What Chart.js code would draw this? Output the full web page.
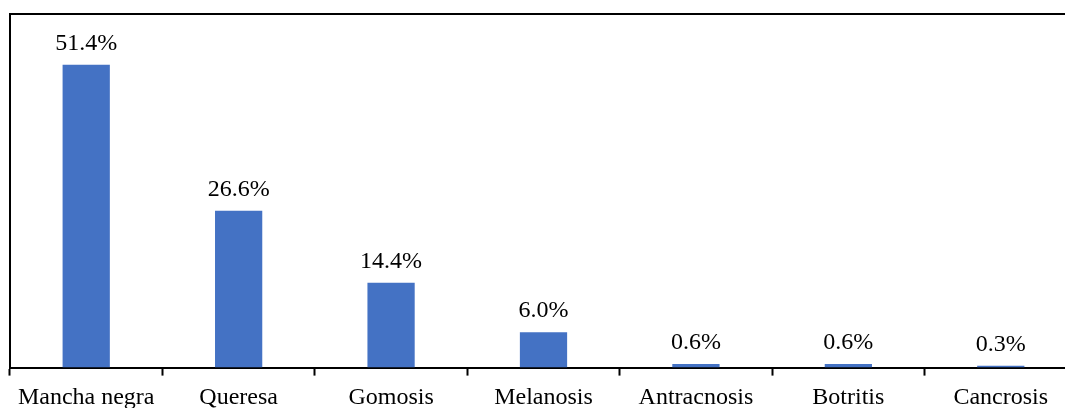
<!DOCTYPE html>
<html>
<head>
<meta charset="utf-8">
<script src="https://cdn.jsdelivr.net/npm/chart.js@4/dist/chart.umd.min.js"></script>
<style>
  html, body { margin: 0; padding: 0; background: #fff; overflow: hidden; }
  .wrap { position: relative; width: 1080px; height: 420px; }
</style>
</head>
<body>
<div class="wrap"><canvas id="diseaseChart"></canvas></div>
<script>
  // Chart data
  const categories = ["Mancha negra", "Queresa", "Gomosis", "Melanosis", "Antracnosis", "Botritis", "Cancrosis"];
  const percentages = [51.4, 26.6, 14.4, 6.0, 0.6, 0.6, 0.3];
  const valueLabels = ["51.4%", "26.6%", "14.4%", "6.0%", "0.6%", "0.6%", "0.3%"];

  const serif = "'Liberation Serif', 'Times New Roman', serif";

  // Frame lines (top and left) around the plot area
  const framePlugin = {
    id: "frame",
    afterDraw(chart) {
      const { ctx, chartArea } = chart;
      ctx.save();
      ctx.strokeStyle = "#000";
      ctx.lineWidth = 2;
      ctx.beginPath();
      ctx.moveTo(chartArea.left, chartArea.bottom);
      ctx.lineTo(chartArea.left, chartArea.top);
      ctx.lineTo(chartArea.right, chartArea.top);
      ctx.stroke();
      ctx.restore();
    }
  };

  // Percentage labels above each bar
  const valueLabelPlugin = {
    id: "valueLabels",
    afterDatasetsDraw(chart) {
      const { ctx } = chart;
      const meta = chart.getDatasetMeta(0);
      ctx.save();
      ctx.fillStyle = "#000";
      ctx.font = "24px " + serif;
      ctx.textAlign = "center";
      ctx.textBaseline = "alphabetic";
      meta.data.forEach((bar, i) => {
        ctx.fillText(valueLabels[i], bar.x, bar.y - 15);
      });
      ctx.restore();
    }
  };

  new Chart(document.getElementById("diseaseChart"), {
    type: "bar",
    data: {
      labels: categories,
      datasets: [
        {
          data: percentages,
          backgroundColor: "#4472C4",
          borderWidth: 0,
          categoryPercentage: 1,
          barPercentage: 0.31
        }
      ]
    },
    options: {
      responsive: true,
      maintainAspectRatio: false,
      animation: false,
      layout: { padding: { left: 10, top: 14, right: 3, bottom: 0 } },
      plugins: {
        legend: { display: false },
        tooltip: { enabled: false }
      },
      scales: {
        x: {
          grid: {
            offset: true,
            drawOnChartArea: false,
            drawTicks: true,
            tickLength: 8,
            tickWidth: 2,
            color: "#000"
          },
          border: { display: true, color: "#000", width: 2 },
          ticks: {
            color: "#000",
            font: { family: serif, size: 24, lineHeight: 1.1 },
            padding: 9,
            maxRotation: 0,
            autoSkip: false
          }
        },
        y: {
          display: false,
          min: 0,
          max: 60
        }
      }
    },
    plugins: [framePlugin, valueLabelPlugin]
  });
</script>
</body>
</html>
